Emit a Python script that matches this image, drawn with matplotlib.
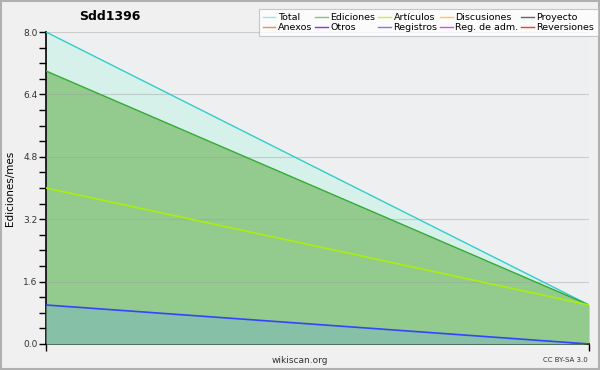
import matplotlib.pyplot as plt
from matplotlib.lines import Line2D
from matplotlib.patches import Rectangle

months = [0, 1]
total = [8.0, 1.0]
ediciones = [7.0, 1.0]
articulos = [4.0, 1.0]
registros = [1.0, 0.0]

legend_names = ['Total', 'Ediciones', 'Artículos', 'Discusiones', 'Proyecto',
                'Anexos', 'Otros', 'Registros', 'Reg. de adm.', 'Reversiones']
legend_colors = ['#99e6e6', '#77cc77', '#ccf033', '#ffcc33', '#666666',
                 '#ff8844', '#8833ee', '#7777ff', '#dd44ff', '#ff3333']
y_ticks = [0.0, 1.6, 3.2, 4.8, 6.4, 8.0]

fig = plt.figure(figsize=(6, 3.7), dpi=100, facecolor='#f0f0f0')
fig.patches.append(Rectangle((0.002, 0.003), 0.996, 0.994, transform=fig.transFigure,
                             fill=False, edgecolor='#b0b0b0', linewidth=1.5))
ax = fig.add_axes([0.0767, 0.0703, 0.905, 0.8432])
ax.set_facecolor('#eeeff1')

# areas
ax.fill_between(months, 0, total, color='#d6f0ea', lw=0, zorder=1)
ax.fill_between(months, 0, ediciones, color='#93cb8f', lw=0, zorder=2)
ax.fill_between(months, 0, registros, color='#86c0a6', lw=0, zorder=3)
# grid shows faintly through the areas
for v in y_ticks[1:-1]:
    ax.axhline(v, color='#999999', lw=0.8, alpha=0.4, zorder=4)
ax.plot(months, total, color='#33cccc', lw=1, zorder=5)
ax.plot(months, ediciones, color='#33aa33', lw=1, zorder=5)
ax.plot(months, articulos, color='#aaee11', lw=1.2, zorder=5)
ax.plot(months, registros, color='#3344ff', lw=1.2, zorder=5)

ax.set_xlim(0, 1)
ax.set_ylim(0, 8)
ax.set_yticks(y_ticks)
ax.set_yticklabels(['%.1f' % v for v in y_ticks], fontsize=6.5, color='#333333')
ax.set_yticks([v * 0.4 for v in range(21)], minor=True)
ax.set_xticks([0, 1])
ax.set_xticklabels([])
ax.tick_params(axis='y', which='both', length=5, width=1, direction='out', pad=1)
ax.tick_params(axis='x', length=5, width=1, direction='out')
ax.axhline(8.0, color='#cccccc', lw=0.8, zorder=0.5)
for s in ['top', 'right']:
    ax.spines[s].set_visible(False)
ax.spines['left'].set_linewidth(1.2)
ax.spines['bottom'].set_linewidth(1.2)

ax.set_ylabel('Ediciones/mes', fontsize=7.5, labelpad=6)
fig.text(0.183, 0.955, 'Sdd1396', fontsize=9, fontweight='bold', ha='center', va='center')
fig.text(0.5, 0.027, 'wikiscan.org', fontsize=6.5, ha='center', va='center', color='#333333')
fig.text(0.98, 0.027, 'CC BY-SA 3.0', fontsize=5, ha='right', va='center', color='#333333')

handles = [Line2D([0], [0], color=c, lw=1) for c in legend_colors]
# order so rows read across (ncol=5, column-major filling)
order = []
for col in range(5):
    order += [col, col + 5]
leg = fig.legend([handles[i] for i in order], [legend_names[i] for i in order],
                 ncol=5, loc='upper right', bbox_to_anchor=(0.997, 0.975),
                 fontsize=6.8, frameon=True, fancybox=False, handlelength=1.3,
                 handletextpad=0.3, columnspacing=0.3, labelspacing=0.15,
                 borderpad=0.4, borderaxespad=0)
leg.get_frame().set_edgecolor('#bbbbbb')
leg.get_frame().set_facecolor('white')
leg.get_frame().set_linewidth(0.8)

fig.savefig('out.png', dpi=100, facecolor=fig.get_facecolor())
